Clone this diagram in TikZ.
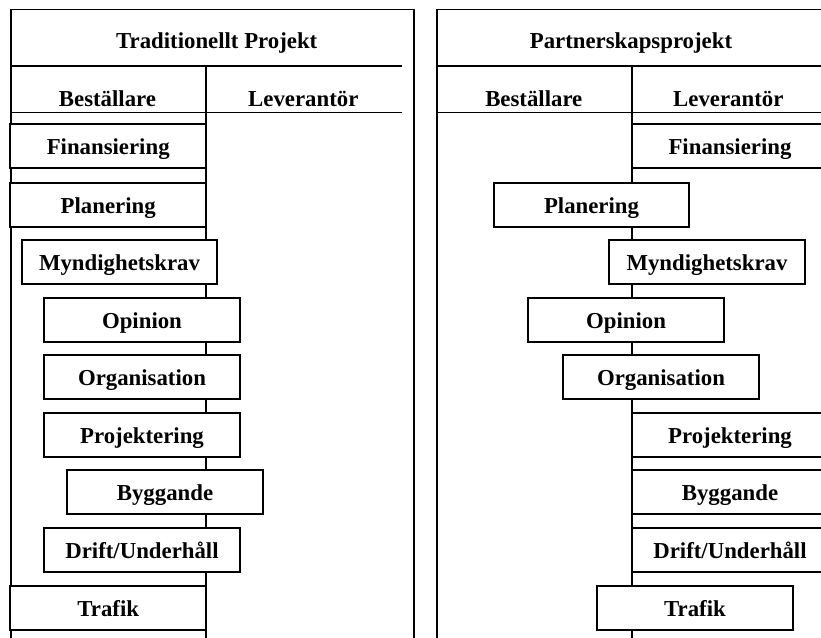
\documentclass[tikz,border=0pt]{standalone}
\usepackage{fontspec}
\setmainfont{Liberation Serif}
\begin{document}
\begin{tikzpicture}[x=1pt,y=-1pt,
  frame/.style={line width=1.9pt},
  rule/.style={line width=1.6pt},
  box/.style={draw,fill=white,line width=2pt,minimum width=195.5pt,minimum height=44pt,
    inner sep=0pt,text height=17pt,text depth=0pt,font=\fontsize{22.8}{26}\selectfont\bfseries},
  head/.style={anchor=base,inner sep=0pt,font=\fontsize{22.8}{26}\selectfont\bfseries}]
\useasboundingbox (0,0) rectangle (821,637);
\clip (0,0) rectangle (821,637);
% ---------- left panel: Traditionellt Projekt ----------
\draw[frame] (10.7,9.5) rectangle (413.7,700);
\draw[rule] (10.7,65.7) -- (402,65.7);
\draw[rule] (10.7,112.5) -- (402,112.5);
\coordinate (Ltop) at (205.7,65.7);
\coordinate (Lbot) at (205.7,700);
\draw[frame] (Ltop) -- (Lbot);
\node[head] (Ltitle) at (216.7,48.3) {Traditionellt Projekt};
\node[head] (Lbest) at (107.5,106) {Beställare};
\node[head] (Llev) at (303.3,106) {Leverantör};
\node[box] (Lfin) at (108.2,146) {Finansiering};
\node[box] (Lpla) at (108.2,204.5) {Planering};
\node[box] (Lmyn) at (119.5,262) {Myndighetskrav};
\node[box] (Lopi) at (142,320) {Opinion};
\node[box] (Lorg) at (142,377) {Organisation};
\node[box] (Lpro) at (142,434.5) {Projektering};
\node[box] (Lbyg) at (165,492) {Byggande};
\node[box] (Ldri) at (142,550) {Drift/Underhåll};
\node[box] (Ltra) at (108.2,608) {Trafik};
% ---------- right panel: Partnerskapsprojekt ----------
\draw[frame] (436.7,9.5) rectangle (839.7,700);
\draw[rule] (436.7,65.7) -- (828,65.7);
\draw[rule] (436.7,112.5) -- (828,112.5);
\coordinate (Rtop) at (632,65.7);
\coordinate (Rbot) at (632,700);
\draw[frame] (Rtop) -- (Rbot);
\node[head] (Rtitle) at (631,48.3) {Partnerskapsprojekt};
\node[head] (Rbest) at (533.8,106) {Beställare};
\node[head] (Rlev) at (728.3,106) {Leverantör};
\node[box] (Rfin) at (730,146) {Finansiering};
\node[box] (Rpla) at (591.5,204.5) {Planering};
\node[box] (Rmyn) at (707,262) {Myndighetskrav};
\node[box] (Ropi) at (626,320) {Opinion};
\node[box] (Rorg) at (661,377) {Organisation};
\node[box] (Rpro) at (730,434.5) {Projektering};
\node[box] (Rbyg) at (730,492) {Byggande};
\node[box] (Rdri) at (730,550) {Drift/Underhåll};
\node[box] (Rtra) at (695,608) {Trafik};
\end{tikzpicture}
\end{document}
